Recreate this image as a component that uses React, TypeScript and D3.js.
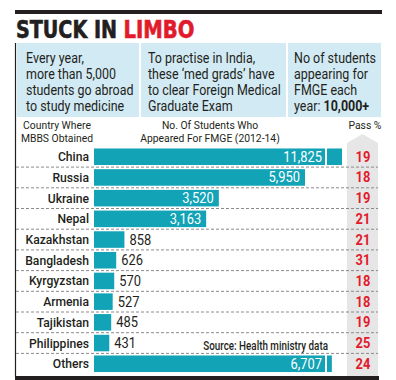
import React from "react";
import * as d3 from "d3";

const countries = ["China", "Russia", "Ukraine", "Nepal", "Kazakhstan", "Bangladesh", "Kyrgyzstan", "Armenia", "Tajikistan", "Philippines", "Others"];
const students = [11825, 5950, 3520, 3163, 858, 626, 570, 527, 485, 431, 6707];
const passPct = [19, 18, 19, 21, 21, 31, 18, 18, 19, 25, 24];
const infoTexts = [
  ["Every year,", "more than 5,000", "students go abroad", "to study medicine"],
  ["To practise in India,", "these \u2018med grads\u2019 have", "to clear Foreign Medical", "Graduate Exam"],
  ["No of students", "appearing for", "FMGE each", "year: "],
];
const infoBold = "10,000+";

const FONT = "Roboto, 'Noto Sans', sans-serif";
const TITLE_FONT = "'DejaVu Sans Condensed', 'DejaVu Sans', sans-serif";
const TEAL = "#13a3b7";
const RED = "#e11b2c";
const DARK = "#231f20";

type TProps = {
  x: number; y: number; sx?: number; size: number; anchor?: "start" | "middle" | "end";
  weight?: string | number; fill?: string; children: React.ReactNode;
};
function T({ x, y, sx = 1, size, anchor = "start", weight = "normal", fill = DARK, children }: TProps) {
  return (
    <text transform={`scale(${sx},1)`} x={x / sx} y={y} textAnchor={anchor} fontFamily={FONT} fontSize={size} fontWeight={weight} fill={fill}>
      {children}
    </text>
  );
}

export default function App() {
  const W = 396, H = 380;
  const x = d3.scaleLinear().domain([0, 5950]).range([94, 305]);
  const y = d3.scaleBand<string>().domain(countries).range([146.4, 374.1]).paddingInner(0.2).paddingOuter(0.1);
  const breakX = 325;
  const maxX = 342;
  const step = y.step();
  const bw = y.bandwidth();
  const fmt = d3.format(",");

  const boxes = [
    { x0: 17, x1: 139, tx: 26 },
    { x0: 141, x1: 286, tx: 148 },
    { x0: 288, x1: 381, tx: 294 },
  ];

  return (
    <svg width={W} height={H} style={{ position: "absolute", left: 0, top: 0, background: "#fff" }}>
      <rect x={15} y={10} width={367} height={4} fill={DARK} />
      <text x={16} y={37.5} fontFamily={TITLE_FONT} fontWeight="bold" fontSize={24} fill={DARK} stroke={DARK} strokeWidth={0.6} textLength={101} lengthAdjust="spacingAndGlyphs">
        STUCK IN
      </text>
      <text x={123.5} y={37.5} fontFamily={TITLE_FONT} fontWeight="bold" fontSize={24} fill={RED} stroke={RED} strokeWidth={0.6} textLength={71} lengthAdjust="spacingAndGlyphs">
        LIMBO
      </text>
      {boxes.map((b, i) => (
        <g key={i}>
          <rect x={b.x0} y={43} width={b.x1 - b.x0} height={74} fill="#d2eaf4" />
          {infoTexts[i].map((t, j) => (
            <T key={j} x={b.tx} y={63 + j * 16} size={14.5} sx={0.86}>
              {t}
              {i === 2 && j === 3 ? <tspan fontWeight="bold">{infoBold}</tspan> : null}
            </T>
          ))}
        </g>
      ))}
      <line x1={15.5} x2={15.5} y1={43} y2={377} stroke={DARK} strokeWidth={1.2} />

      <T x={57} y={129} anchor="middle" size={11.5} sx={0.9}>Country Where</T>
      <T x={57} y={142} anchor="middle" size={11.5} sx={0.9}>MBBS Obtained</T>
      <T x={210} y={129} anchor="middle" size={11.5} sx={0.9}>No. Of Students Who</T>
      <T x={210} y={142} anchor="middle" size={11.5} sx={0.9}>Appeared For FMGE (2012-14)</T>
      <T x={365} y={129} anchor="middle" size={11.5} sx={0.9}>Pass %</T>

      <path d="M347,143 L362.5,134 L378,143 L378,377 L347,377 Z" fill="#e6e6e6" />

      {countries.map((c, i) => {
        const yy = y(c)!;
        const v = students[i];
        const full = x(v);
        const broken = full > breakX;
        const end = Math.min(full, maxX);
        const inside = full - 94 > 60;
        const labelEnd = broken ? breakX - 3 : full - 5;
        const ty = yy + bw / 2 + 5;
        return (
          <g key={c}>
            {broken ? (
              <>
                <rect x={94} y={yy} width={breakX - 94} height={bw} fill={TEAL} />
                <rect x={breakX + 2} y={yy} width={end - breakX - 2} height={bw} fill={TEAL} />
              </>
            ) : (
              <rect x={94} y={yy} width={full - 94} height={bw} fill={TEAL} />
            )}
            <T x={89} y={ty - 0.5} anchor="end" size={13.5} sx={0.9} weight={500}>{c}</T>
            {inside ? (
              <T x={labelEnd} y={ty} anchor="end" size={15} sx={0.86} fill="#fff">{fmt(v)}</T>
            ) : (
              <T x={full + 5} y={ty} size={15} sx={0.86}>{fmt(v)}</T>
            )}
            <T x={363} y={ty} anchor="middle" size={15} sx={0.86} weight="bold" fill={RED}>{passPct[i]}</T>
            {i < countries.length - 1 ? (
              <line x1={16} x2={378} y1={yy + bw + (step - bw) / 2} y2={yy + bw + (step - bw) / 2} stroke="#8a8a8a" strokeWidth={1} strokeDasharray="3,2" />
            ) : null}
          </g>
        );
      })}
      <T x={328} y={350} anchor="end" size={12} sx={0.82} weight={500}>Source: Health ministry data</T>
      <rect x={15} y={376} width={364} height={4} fill={DARK} />
    </svg>
  );
}
